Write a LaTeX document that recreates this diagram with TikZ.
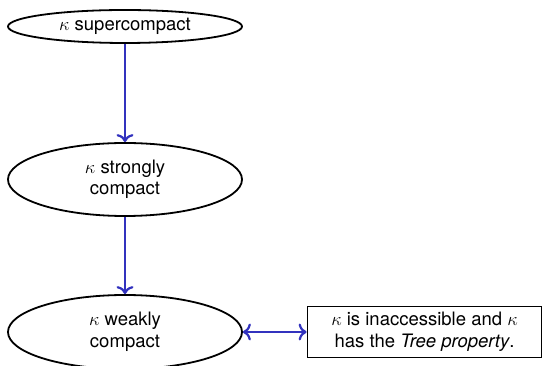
\documentclass[tikz,border=0pt]{standalone}
\usepackage{fix-cm}
\usepackage{fontspec}
\setmainfont{TeX Gyre Heros}
\usetikzlibrary{shapes.geometric, arrows.meta}

\definecolor{arrowblue}{RGB}{50,50,190}

\begin{document}
\begin{tikzpicture}[x=1pt, y=1pt,
  every node/.style={font=\fontsize{18.5}{21.5}\selectfont},
  oval/.style={draw, ellipse, line width=1.8pt, inner sep=0pt, align=center},
  box/.style={draw, rectangle, line width=1.8pt, inner sep=0pt, align=center},
  implies/.style={-{To[length=8pt, width=17pt]}, draw=arrowblue, line width=2.2pt}]

\useasboundingbox (0,0) rectangle (545,366);

%nodes
\node[oval, minimum width=234, minimum height=33] (super) at (125,339.5) {$\kappa$ supercompact};
\node[oval, minimum width=234, minimum height=73] (strong) at (125,186.5) {$\kappa$ strongly\\compact};
\node[oval, minimum width=234, minimum height=74] (weak) at (125,34) {$\kappa$ weakly\\compact};
\node[box, minimum width=234, minimum height=51] (tree) at (424.5,34) {$\kappa$ is inaccessible and $\kappa$\\has the \textit{Tree property}.};

%arrows
\draw[implies] (super) -- (strong);
\draw[implies] (strong) -- (weak);
\draw[implies, {To[length=8pt, width=17pt]}-{To[length=8pt, width=17pt]}] (weak) -- (tree);

\end{tikzpicture}
\end{document}
